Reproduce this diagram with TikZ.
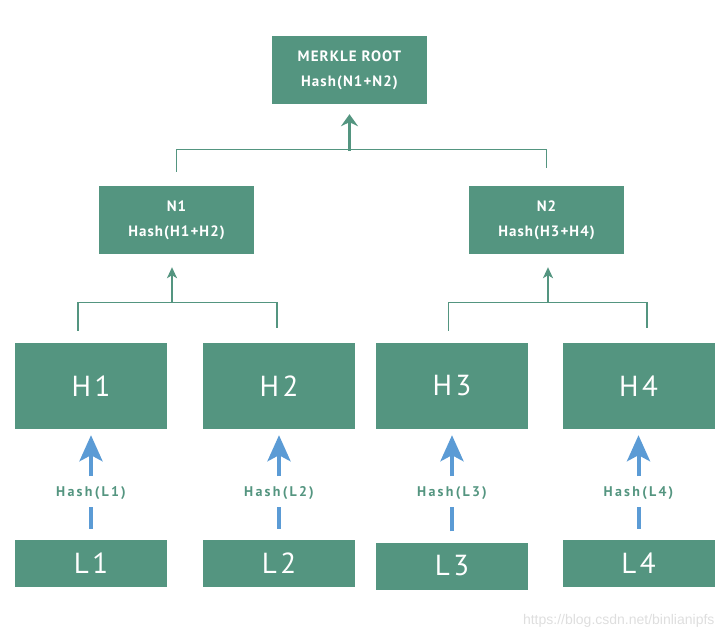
\documentclass[tikz,border=0pt]{standalone}
\usepackage{fontspec}
\setsansfont{PT Sans}
\usetikzlibrary{arrows.meta}
\definecolor{merkle}{RGB}{84,149,128}
\definecolor{hashblue}{RGB}{91,155,213}
\tikzset{
	box/.style={fill=merkle, text=white, align=center, inner sep=0pt},
	topbox/.style={box, minimum width=155pt, minimum height=68pt,
			font=\sffamily\bfseries\fontsize{15}{25}\selectfont\addfontfeatures{LetterSpace=7}},
	hbox/.style={box, minimum width=152pt, minimum height=86pt,
			font=\sffamily\fontsize{29}{30}\selectfont\addfontfeatures{LetterSpace=12}},
	lbox/.style={box, minimum width=152pt, minimum height=47pt,
			font=\sffamily\fontsize{29}{30}\selectfont\addfontfeatures{LetterSpace=12}},
	hashlabel/.style={text=merkle, inner sep=0pt,
			font=\sffamily\bfseries\fontsize{14}{15}\selectfont\addfontfeatures{LetterSpace=16}},
	link/.style={draw=merkle, line width=1.3pt},
	bline/.style={draw=hashblue, line width=4pt},
}
\begin{document}
\begin{tikzpicture}[x=1pt, y=-1pt]
	\useasboundingbox (0,0) rectangle (726,639);
	% root and middle level
	\node[topbox] (root) at (349.5,70) {MERKLE ROOT\\Hash(N1+N2)};
	\foreach \i/\x/\a/\b in {1/176.5/1/2, 2/546.5/3/4}
		\node[topbox] (n\i) at (\x,220) {N\i\\Hash(H\a+H\b)};
	\draw[link] ([yshift=14pt]n1.north) -- ++(0,-22) -| ([yshift=18pt]n2.north);
	\draw[link, line width=3pt, -{Stealth[length=12pt, width=17pt, inset=4pt]}]
		([yshift=-47pt]root.south) -- ([yshift=-10pt]root.south);
	% leaves and their hashes
	\foreach \i/\x/\y in {1/91/563.5, 2/279/563.5, 3/452/566, 4/638.5/563.5} {
			\node[hbox] (h\i) at (\x,386) {H\i};
			\node[lbox] (l\i) at (\x,\y) {L\i};
			\node[hashlabel] (hl\i) at (\x,493) {Hash(L\i)};
			\draw[bline] ([yshift=11pt]l\i.north) -- ([yshift=-14pt]hl\i.center);
			\draw[bline, -{Stealth[length=26pt, width=23pt, inset=6pt]}]
				([yshift=17pt]hl\i.center) -- ([yshift=-6pt]h\i.south);
		}
	% brackets from the H level
	\draw[link] ([xshift=-13pt,yshift=12pt]h1.north) -- ++(0,-28) -| ([xshift=-2pt,yshift=15pt]h2.north);
	\draw[link] ([xshift=-3.5pt,yshift=12pt]h3.north) -- ++(0,-28) -| ([xshift=8.5pt,yshift=15pt]h4.north);
	\foreach \i/\dx in {1/-4.5, 2/1.5}
		\draw[link, line width=2pt, -{Stealth[length=11pt, width=10pt, inset=3pt]}]
			([xshift=\dx pt,yshift=-48pt]n\i.south) -- ([xshift=\dx pt,yshift=-13pt]n\i.south);
	% watermark
	\node[text=black!13, font=\fontsize{14}{15}\selectfont, anchor=east] (wm) at (718,621)
		{\fontspec{Liberation Sans}https://blog.csdn.net/binlianipfs};
\end{tikzpicture}
\end{document}
